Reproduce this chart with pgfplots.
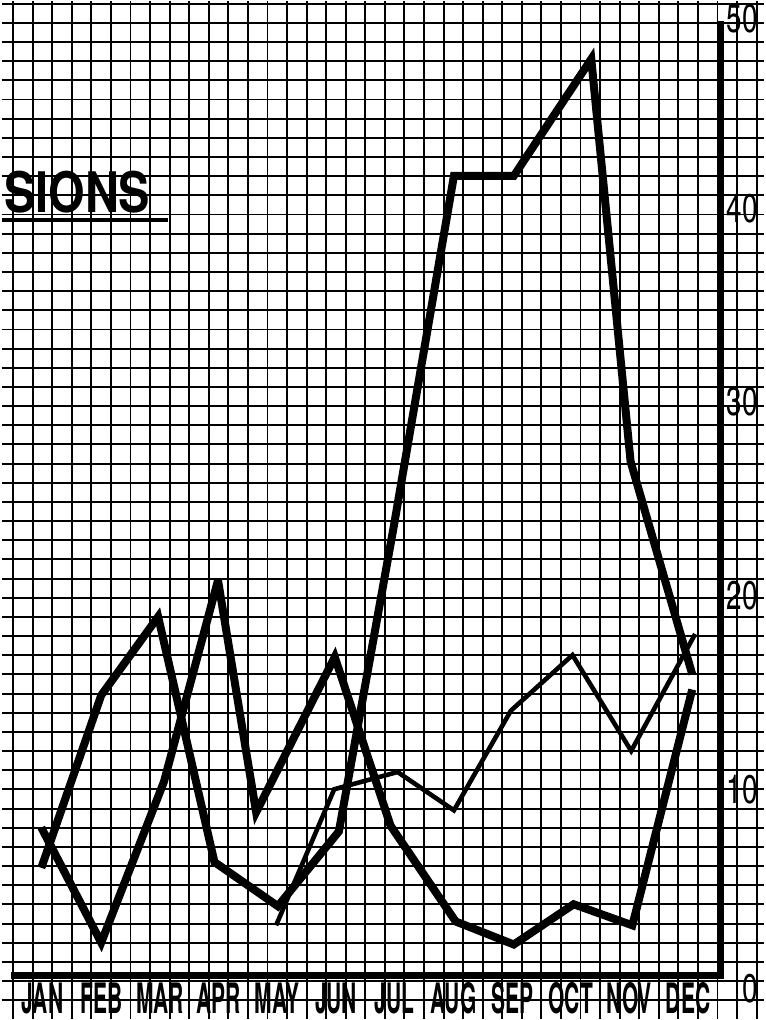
\documentclass[border=0pt]{standalone}
\usepackage{pgfplots}
\pgfplotsset{compat=1.18}
\usepackage{fontspec}
\setmainfont{TeX Gyre Heros}[FakeStretch=0.5]
\newfontfamily\numfont{TeX Gyre Heros}[FakeStretch=0.7]
\newfontfamily\titlefont{TeX Gyre Heros}[FakeStretch=0.84]

\begin{document}
\begin{tikzpicture}
\begin{axis}[
    scale only axis,
    width=382pt, height=510pt,
    xmin=-0.697, xmax=12.296,
    ymin=-2.29, ymax=50.83,
    axis line style={draw=none},
    major tick length=0pt, minor tick length=0pt,
    % graph paper: 3 squares per month, 1 square per unit
    minor xtick={-0.5,-0.16667,...,12.3},
    minor ytick={-2.31,-1.31,...,50.8},
    grid=minor,
    minor grid style={black, line width=0.95pt},
    xtick={0,1,2,3,4,5,6,7,8,9,10,11},
    xticklabels={JAN,FEB,MAR,APR,MAY,JUN,JUL,AUG,SEP,OCT,NOV,DEC},
    xticklabel style={anchor=south, yshift=2.5pt, inner sep=0pt,
        font=\bfseries\fontsize{21}{21}\selectfont},
    yticklabel pos=right,
    ytick={-0.7,9.7,19.8,29.9,40,49.9},
    yticklabels={0,10,20,30,40,50},
    yticklabel style={anchor=east, xshift=-3pt, inner sep=0pt,
        font=\numfont\fontsize{20}{20}\selectfont},
    clip=false,
]
% axes drawn on the paper
\addplot[black, line width=3.6pt, line join=miter] coordinates {
    (-0.53,0) (11.55,0) (11.55,49.8)};

% series A
\addplot[black, line width=4pt, line join=miter, miter limit=4] coordinates {
    (-0.02,5.6) (1.0,14.6) (1.97,18.7) (2.93,5.9) (4.01,3.6) (5.05,7.5)
    (5.99,23.5) (7.01,41.7) (8.03,41.7) (9.35,47.8) (10.02,26.8) (11.07,15.7)};

% series B
\addplot[black, line width=4pt, line join=miter, miter limit=4] coordinates {
    (-0.02,7.7) (1.0,1.7) (2.07,10.1) (2.99,20.6) (3.64,8.5) (4.98,16.6)
    (5.93,7.8) (7.04,2.8) (8.03,1.6) (9.05,3.7) (10.05,2.6) (11.07,14.9)};

% series C (thin)
\addplot[black, line width=2.3pt, line join=miter, miter limit=4] coordinates {
    (3.98,2.6) (4.97,9.7) (6.05,10.6) (7.01,8.6) (7.98,13.8) (9.03,16.7)
    (10.03,11.7) (11.12,17.8)};

% title fragment
\node[anchor=west, inner sep=0pt, font=\titlefont\bfseries\fontsize{28}{28}\selectfont]
    at (axis cs:-0.66,40.85) {SIONS};
\addplot[black, line width=1.6pt] coordinates {(-0.697,39.4) (2.14,39.4)};
\end{axis}
\end{tikzpicture}
\end{document}
